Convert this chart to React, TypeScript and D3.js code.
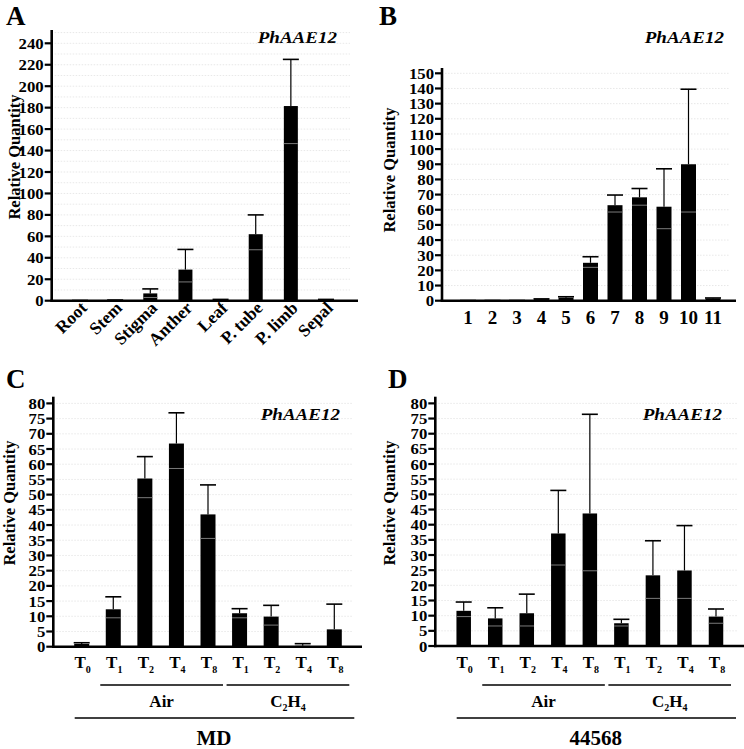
import * as d3 from 'd3';

// ---- data ----
const tissues = ['Root', 'Stem', 'Stigma', 'Anther', 'Leaf', 'P. tube', 'P. limb', 'Sepal'];
const tissueMean = [0.2, 0.6, 6.8, 29, 1.2, 62, 181.5, 1.2];
const tissueUpper = [0.2, 0.6, 11, 47.8, 1.2, 80, 225, 1.2];
const tissueLower = [0.2, 0.6, 3, 17.5, 1.2, 47.5, 146.5, 1.2];

const stages = ['1', '2', '3', '4', '5', '6', '7', '8', '9', '10', '11'];
const stageMean = [0.1, 0.1, 0.1, 1, 2, 25, 63, 68.2, 62, 90, 1.5];
const stageUpper = [0.1, 0.1, 0.1, 1.2, 2.6, 29, 69.7, 74, 87, 139.5, 1.8];
const stageLower = [0.1, 0.1, 0.1, 1, 2, 22, 58.5, 63, 47.5, 58.5, 1.5];

const times = ['T0', 'T1', 'T2', 'T4', 'T8', 'T1', 'T2', 'T4', 'T8'];
const groups = [
  { name: 'Air', from: 1, to: 4 },
  { name: 'C2H4', from: 5, to: 8 },
];

const mdMean = [0.9, 12.3, 55.3, 66.8, 43.5, 11, 9.9, 0.3, 5.7];
const mdUpper = [1.3, 16.4, 62.5, 76.9, 53.2, 12.5, 13.6, 1, 14];
const mdLower = [0.9, 9.5, 49, 58.6, 35.6, 9.5, 7.1, 0.3, 5.7];

const cvMean = [11.6, 9.1, 10.8, 37.1, 43.7, 7.5, 23.3, 24.9, 9.7];
const cvUpper = [14.5, 12.6, 17.1, 51.3, 76.4, 8.8, 34.7, 39.7, 12.2];
const cvLower = [9.7, 6.6, 6.6, 26.7, 24.8, 6.6, 15.7, 15.7, 7.5];

const font = "'Liberation Serif', 'Times New Roman', serif";

type PanelProps = {
  letter: string;
  letterPos: [number, number];
  gene: [number, number];
  yLabel: [number, number];
  axisX: number;
  axisEnd: number;
  gridEnd: number;
  y0: number;
  yTop: number;
  yMax: number;
  ticks: number[];
  grid: number[];
  xRange: [number, number];
  n: number;
  barW: number;
  mean: number[];
  upper: number[];
  lower: number[];
};

function Panel(p: PanelProps) {
  const y = d3.scaleLinear().domain([0, p.yMax]).range([p.y0, p.yTop]);
  const x = d3.scalePoint<number>().domain(d3.range(p.n)).range(p.xRange);
  return (
    <g>
      <text x={p.letterPos[0]} y={p.letterPos[1]} fontSize={27} fontWeight='bold' fontFamily={font}>
        {p.letter}
      </text>
      <text
        transform={`translate(${p.gene[0]},${p.gene[1]}) scale(1.12,1)`}
        textAnchor='end'
        fontSize={17}
        fontWeight='bold'
        fontStyle='italic'
        fontFamily={font}
      >
        PhAAE12
      </text>
      <text
        transform={`translate(${p.yLabel[0]},${p.yLabel[1]}) rotate(-90)`}
        textAnchor='middle'
        dominantBaseline='central'
        fontSize={16.5}
        fontWeight='bold'
        fontFamily={font}
      >
        Relative Quantity
      </text>
      {p.grid.map((v) => (
        <line
          key={'g' + v}
          x1={p.axisX + 3}
          x2={p.gridEnd}
          y1={y(v)}
          y2={y(v)}
          stroke='#d8d8d8'
          strokeWidth={0.6}
          strokeDasharray='1.5,1.5'
        />
      ))}
      {p.mean.map((m, i) => {
        const cx = x(i)!;
        const top = y(m);
        return (
          <g key={'b' + i}>
            <line x1={cx} x2={cx} y1={top} y2={y(p.upper[i])} stroke='#000' strokeWidth={1.2} />
            <line x1={cx - 8} x2={cx + 8} y1={y(p.upper[i])} y2={y(p.upper[i])} stroke='#000' strokeWidth={1.6} />
            <rect x={cx - p.barW / 2} y={top} width={p.barW} height={Math.max(p.y0 - top, 1)} fill='#000' />
            {p.lower[i] < m - 0.5 && (
              <line
                x1={cx - p.barW / 2}
                x2={cx + p.barW / 2}
                y1={y(p.lower[i])}
                y2={y(p.lower[i])}
                stroke='#7a7a7a'
                strokeWidth={1}
              />
            )}
          </g>
        );
      })}
      <line x1={p.axisX} x2={p.axisX} y1={p.yTop} y2={p.y0 + 1.2} stroke='#000' strokeWidth={2.6} />
      <line x1={p.axisX - 1.3} x2={p.axisEnd} y1={p.y0} y2={p.y0} stroke='#000' strokeWidth={2.6} />
      {p.ticks.map((v) => (
        <g key={'t' + v} transform={`translate(${p.axisX},${y(v)})`}>
          <line x1={-7} x2={0} stroke='#000' strokeWidth={2.2} />
          <text
            transform='translate(-8,0) scale(1.08,1)'
            textAnchor='end'
            dy='0.36em'
            fontSize={15.5}
            fontWeight='bold'
            fontFamily={font}
          >
            {v}
          </text>
        </g>
      ))}
    </g>
  );
}

function TimeLabels({ xRange, base, bottom }: { xRange: [number, number]; base: number; bottom: string }) {
  const x = d3.scalePoint<number>().domain(d3.range(times.length)).range(xRange);
  const mid = (x(0)! + x(times.length - 1)!) / 2 + 6;
  return (
    <g fontFamily={font} fontWeight='bold'>
      {times.map((t, i) => (
        <text key={i} x={x(i)! + 1} y={base} textAnchor='middle' fontSize={17}>
          {t[0]}
          <tspan fontSize={10} dy={5}>
            {t.slice(1)}
          </tspan>
        </text>
      ))}
      {groups.map((g) => {
        const a = x(g.from)! - 13;
        const b = x(g.to)! + 15;
        return (
          <g key={g.name}>
            <line x1={a} x2={b} y1={base + 17} y2={base + 17} stroke='#000' strokeWidth={1.3} />
            <text x={(a + b) / 2} y={base + 38.5} textAnchor='middle' fontSize={17}>
              {g.name === 'C2H4' ? (
                <>
                  C<tspan fontSize={10} dy={4}>2</tspan>
                  <tspan dy={-4}>H</tspan>
                  <tspan fontSize={10} dy={4}>4</tspan>
                </>
              ) : (
                g.name
              )}
            </text>
          </g>
        );
      })}
      <line x1={x(0)! - 7} x2={x(times.length - 1)! + 20} y1={base + 50} y2={base + 50} stroke='#000' strokeWidth={1.3} />
      <text x={mid} y={base + 77} textAnchor='middle' fontSize={21}>
        {bottom}
      </text>
    </g>
  );
}

export default function App() {
  const xA: [number, number] = [80, 326];
  const xA_ = d3.scalePoint<number>().domain(d3.range(tissues.length)).range(xA);
  const xB: [number, number] = [468, 713];
  const xB_ = d3.scalePoint<number>().domain(d3.range(stages.length)).range(xB);
  const xC: [number, number] = [81.7, 334.3];
  const xD: [number, number] = [463.7, 716];
  return (
    <svg width={744} height={749} style={{ position: 'absolute', left: 0, top: 0, background: '#fff' }}>
      <rect width={744} height={749} fill='#fff' />
      <Panel
        letter='A'
        letterPos={[6, 25]}
        gene={[337, 43]}
        yLabel={[14.5, 157]}
        axisX={51.7}
        axisEnd={358}
        gridEnd={350}
        y0={300.7}
        yTop={30}
        yMax={252.4}
        ticks={d3.range(0, 241, 20)}
        grid={d3.range(10, 251, 10)}
        xRange={xA}
        n={tissues.length}
        barW={14}
        mean={tissueMean}
        upper={tissueUpper}
        lower={tissueLower}
      />
      <g fontFamily={font} fontWeight='bold' fontSize={17.5}>
        {tissues.map((t, i) => (
          <text key={t} transform={`translate(${xA_(i)! + 8},${309}) rotate(-45)`} textAnchor='end'>
            {t}
          </text>
        ))}
      </g>
      <Panel
        letter='B'
        letterPos={[379, 25]}
        gene={[724, 43]}
        yLabel={[389, 170]}
        axisX={442}
        axisEnd={736}
        gridEnd={730}
        y0={300.7}
        yTop={68}
        yMax={153.5}
        ticks={d3.range(0, 151, 10)}
        grid={d3.range(10, 151, 10)}
        xRange={xB}
        n={stages.length}
        barW={15}
        mean={stageMean}
        upper={stageUpper}
        lower={stageLower}
      />
      <g fontFamily={font} fontWeight='bold' fontSize={19}>
        {stages.map((s, i) => (
          <text key={s} x={xB_(i)!} y={324} textAnchor='middle'>
            {s}
          </text>
        ))}
      </g>
      <Panel
        letter='C'
        letterPos={[6, 388]}
        gene={[340, 420]}
        yLabel={[9.5, 503]}
        axisX={53.3}
        axisEnd={362}
        gridEnd={353}
        y0={646.7}
        yTop={396.7}
        yMax={82.2}
        ticks={d3.range(0, 81, 5)}
        grid={d3.range(5, 81, 5)}
        xRange={xC}
        n={times.length}
        barW={15}
        mean={mdMean}
        upper={mdUpper}
        lower={mdLower}
      />
      <TimeLabels xRange={xC} base={668} bottom='MD' />
      <Panel
        letter='D'
        letterPos={[388, 388]}
        gene={[722, 420]}
        yLabel={[389, 503]}
        axisX={435.3}
        axisEnd={744}
        gridEnd={737}
        y0={646}
        yTop={396.7}
        yMax={82.2}
        ticks={d3.range(0, 81, 5)}
        grid={d3.range(5, 81, 5)}
        xRange={xD}
        n={times.length}
        barW={14.5}
        mean={cvMean}
        upper={cvUpper}
        lower={cvLower}
      />
      <TimeLabels xRange={xD} base={668} bottom='44568' />
    </svg>
  );
}
